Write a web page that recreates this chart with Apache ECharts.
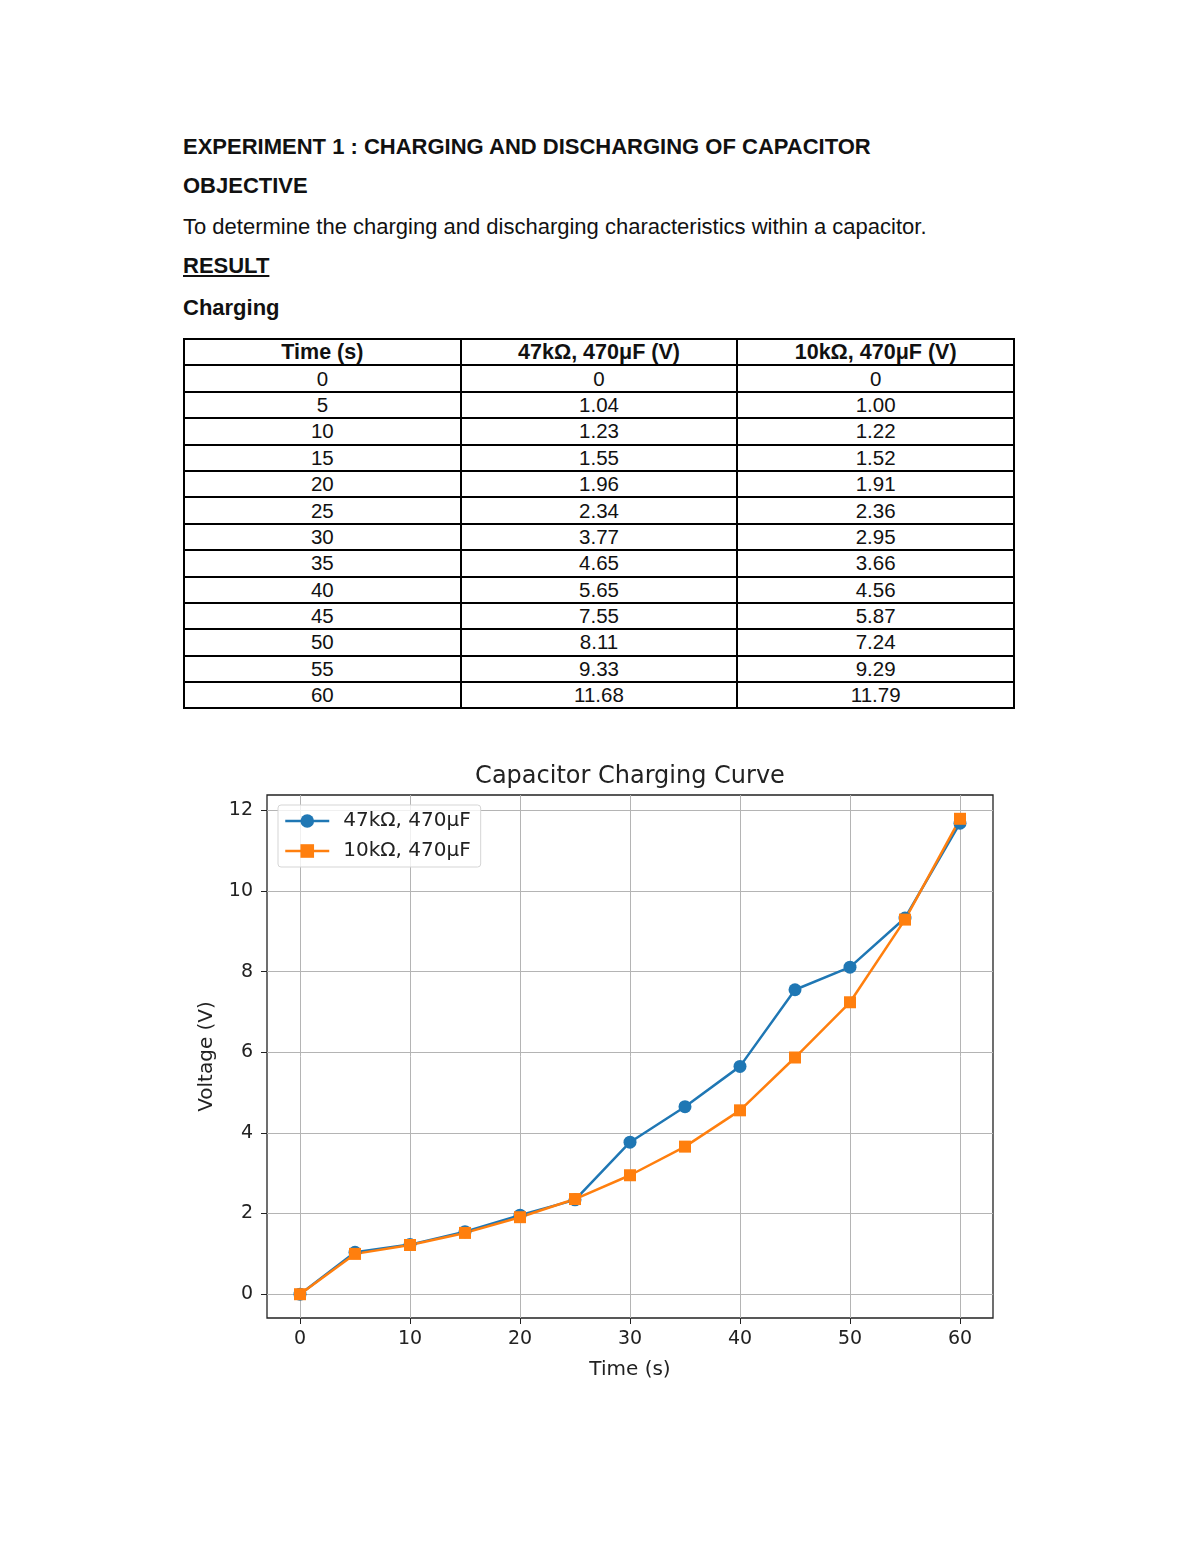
<!DOCTYPE html>
<html>
<head>
<meta charset="utf-8">
<script src="https://cdn.jsdelivr.net/npm/echarts@6/dist/echarts.min.js"></script>
<style>
  body { margin: 0; background: #fff; font-family: "Liberation Sans", Arial, sans-serif; color: #111; }
  .txt { position: absolute; left: 183px; font-size: 22px; line-height: 22px; white-space: nowrap; }
  .b { font-weight: bold; }
  #tbl { position: absolute; left: 183px; top: 338px; width: 832px; border-collapse: collapse; table-layout: fixed; }
  #tbl td, #tbl th { border: 2px solid #000; text-align: center; padding: 0; height: 24.4px; line-height: 22px; }
  #tbl th { font-size: 21.5px; font-weight: bold; }
  #tbl td { font-size: 20.5px; font-weight: normal; }
  #chart { position: absolute; left: 60px; top: 740px; width: 1140px; height: 660px; }
</style>
</head>
<body>
<div class="txt b" style="top:136px">EXPERIMENT 1 : CHARGING AND DISCHARGING OF CAPACITOR</div>
<div class="txt b" style="top:175px">OBJECTIVE</div>
<div class="txt" style="top:216px">To determine the charging and discharging characteristics within a capacitor.</div>
<div class="txt b" style="top:255px; text-decoration: underline;">RESULT</div>
<div class="txt b" style="top:297px">Charging</div>
<table id="tbl"></table>
<div id="chart"></div>
<script>
// 表格和图表共用的数据
var times = [0, 5, 10, 15, 20, 25, 30, 35, 40, 45, 50, 55, 60];
var v47k = [0, 1.04, 1.23, 1.55, 1.96, 2.34, 3.77, 4.65, 5.65, 7.55, 8.11, 9.33, 11.68];
var v10k = [0, 1.00, 1.22, 1.52, 1.91, 2.36, 2.95, 3.66, 4.56, 5.87, 7.24, 9.29, 11.79];
var v47kText = ["0", "1.04", "1.23", "1.55", "1.96", "2.34", "3.77", "4.65", "5.65", "7.55", "8.11", "9.33", "11.68"];
var v10kText = ["0", "1.00", "1.22", "1.52", "1.91", "2.36", "2.95", "3.66", "4.56", "5.87", "7.24", "9.29", "11.79"];
var headers = ["Time (s)", "47kΩ, 470μF (V)", "10kΩ, 470μF (V)"];
var seriesNames = ["47kΩ, 470μF", "10kΩ, 470μF"];
var xTicks = [0, 10, 20, 30, 40, 50, 60];
var yTicks = [0, 2, 4, 6, 8, 10, 12];

//生成表格
var tbl = document.getElementById("tbl");
var html = "<tr>";
for (var i = 0; i < headers.length; i++) {
  html += "<th>" + headers[i] + "</th>";
}
html += "</tr>";
for (var i = 0; i < times.length; i++) {
  html += "<tr><td>" + times[i] + "</td><td>" + v47kText[i] + "</td><td>" + v10kText[i] + "</td></tr>";
}
tbl.innerHTML = html;

//组合成[x,y]
function toPairs (xs, ys) {
  var arr = [];
  for (var i = 0; i < xs.length; i++) {
    arr.push([xs[i], ys[i]]);
  }
  return arr;
}

var font = "DejaVu Sans";
var chart = echarts.init(document.getElementById("chart"));
chart.setOption({
  animation: false,
  title: {
    text: "Capacitor Charging Curve",
    left: "center",
    top: 20,
    textStyle: { fontFamily: font, fontSize: 24, fontWeight: "normal", color: "#222" }
  },
  grid: {
    left: 207, right: 207, top: 55, bottom: 82,
    show: true, borderColor: "#222", borderWidth: 1.3
  },
  legend: {
    orient: "vertical",
    left: 218, top: 65,
    padding: [6, 10, 6, 6],
    itemWidth: 44, itemHeight: 17, itemGap: 10,
    backgroundColor: "rgba(255,255,255,0.8)",
    borderColor: "#d5d5d5", borderWidth: 1, borderRadius: 3,
    lineStyle: { width: 2.5 },
    textStyle: { fontFamily: font, fontSize: 20, color: "#222", lineHeight: 20, padding: [0, 0, 0, 9] }
  },
  xAxis: {
    type: "value",
    min: -3, max: 63,
    name: "Time (s)",
    nameLocation: "middle",
    nameGap: 42,
    nameTextStyle: { fontFamily: font, fontSize: 20, color: "#222" },
    axisLine: { show: false, onZero: false },
    axisTick: { show: true, inside: false, length: 6, customValues: xTicks, lineStyle: { color: "#222" } },
    axisLabel: { customValues: xTicks, margin: 12, fontFamily: font, fontSize: 19, color: "#222" },
    splitLine: { show: true, lineStyle: { color: "#b4b4b4", width: 1 } }
  },
  yAxis: {
    type: "value",
    min: -0.59, max: 12.38,
    name: "Voltage (V)",
    nameLocation: "middle",
    nameGap: 50,
    nameTextStyle: { fontFamily: font, fontSize: 20, color: "#222" },
    axisLine: { show: false, onZero: false },
    axisTick: { show: true, inside: false, length: 6, customValues: yTicks, lineStyle: { color: "#222" } },
    axisLabel: { customValues: yTicks, margin: 14, fontFamily: font, fontSize: 19, color: "#222" },
    splitLine: { show: true, lineStyle: { color: "#b4b4b4", width: 1 } }
  },
  series: [
    {
      name: seriesNames[0],
      type: "line",
      data: toPairs(times, v47k),
      symbol: "circle",
      symbolSize: 13,
      color: "#1f77b4",
      lineStyle: { width: 2.5, color: "#1f77b4" },
      itemStyle: { color: "#1f77b4", borderWidth: 0 }
    },
    {
      name: seriesNames[1],
      type: "line",
      data: toPairs(times, v10k),
      symbol: "rect",
      symbolSize: 12,
      color: "#ff7f0e",
      lineStyle: { width: 2.5, color: "#ff7f0e" },
      itemStyle: { color: "#ff7f0e", borderWidth: 0 }
    }
  ]
});
</script>
</body>
</html>
